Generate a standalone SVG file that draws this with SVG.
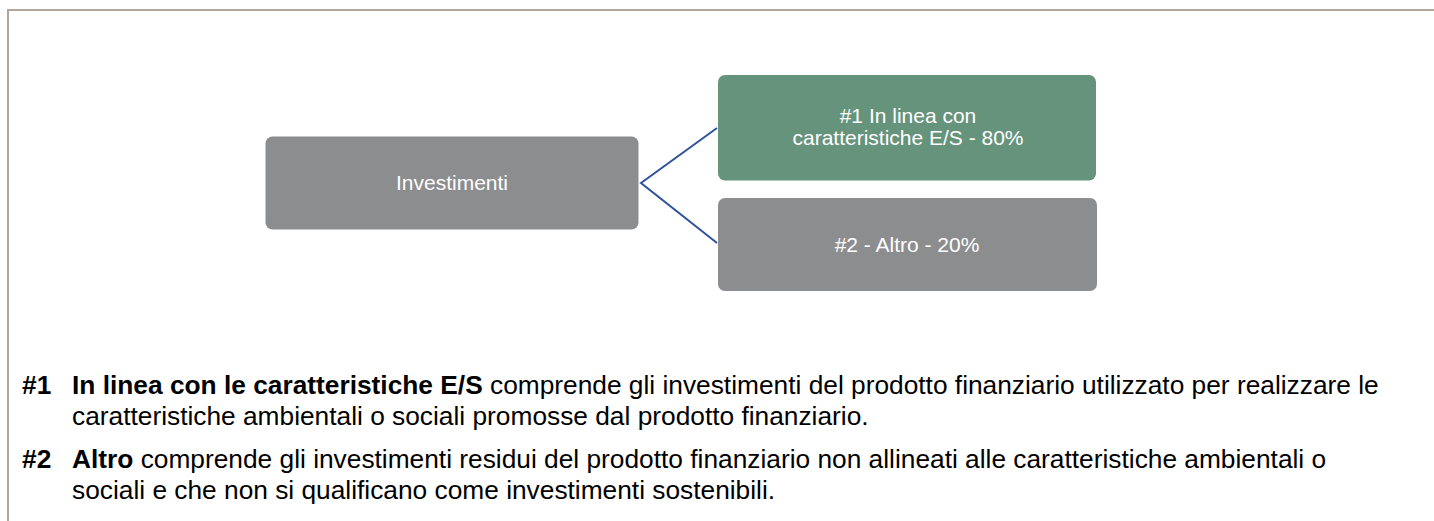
<svg xmlns="http://www.w3.org/2000/svg" width="1434" height="521" viewBox="0 0 1434 521">
<style>
.node-text{font-family:"Liberation Sans",Arial,sans-serif;font-size:21px;fill:#ffffff;text-anchor:middle}
.body{font-family:"Liberation Sans",Arial,sans-serif;font-size:26.3px;fill:#000000}
.b{font-weight:bold}
.conn{stroke:#2f52a0;stroke-width:2;fill:none}
</style>
<rect width="1434" height="521" fill="#ffffff"/>
<path d="M8 521 V10 H1434" fill="none" stroke="#b1a69b" stroke-width="2"/>
<g id="connectors">
<path class="conn" d="M717 128 L641 183 L717 243"/>
</g>
<g id="node-investimenti">
<rect x="265.5" y="136.5" width="373" height="93" rx="7" fill="#8c8d8f"/>
<text class="node-text" x="452" y="190">Investimenti</text>
</g>
<g id="node-es">
<rect x="718" y="75" width="378" height="105.5" rx="7" fill="#66937b"/>
<text class="node-text" x="908" y="123">#1 In linea con</text>
<text class="node-text" x="908" y="145">caratteristiche E/S - 80%</text>
</g>
<g id="node-altro">
<rect x="718" y="198" width="379" height="93" rx="7" fill="#8c8d8f"/>
<text class="node-text" x="907" y="252">#2 - Altro - 20%</text>
</g>
<g id="legend">
<text class="body b" x="22" y="394">#1</text>
<text class="body" x="72" y="394"><tspan class="b">In linea con le caratteristiche E/S</tspan> comprende gli investimenti del prodotto finanziario utilizzato per realizzare le</text>
<text class="body" x="72" y="425">caratteristiche ambientali o sociali promosse dal prodotto finanziario.</text>
<text class="body b" x="22" y="468">#2</text>
<text class="body" x="72" y="468"><tspan class="b">Altro</tspan> comprende gli investimenti residui del prodotto finanziario non allineati alle caratteristiche ambientali o</text>
<text class="body" x="72" y="499">sociali e che non si qualificano come investimenti sostenibili.</text>
</g>
</svg>
